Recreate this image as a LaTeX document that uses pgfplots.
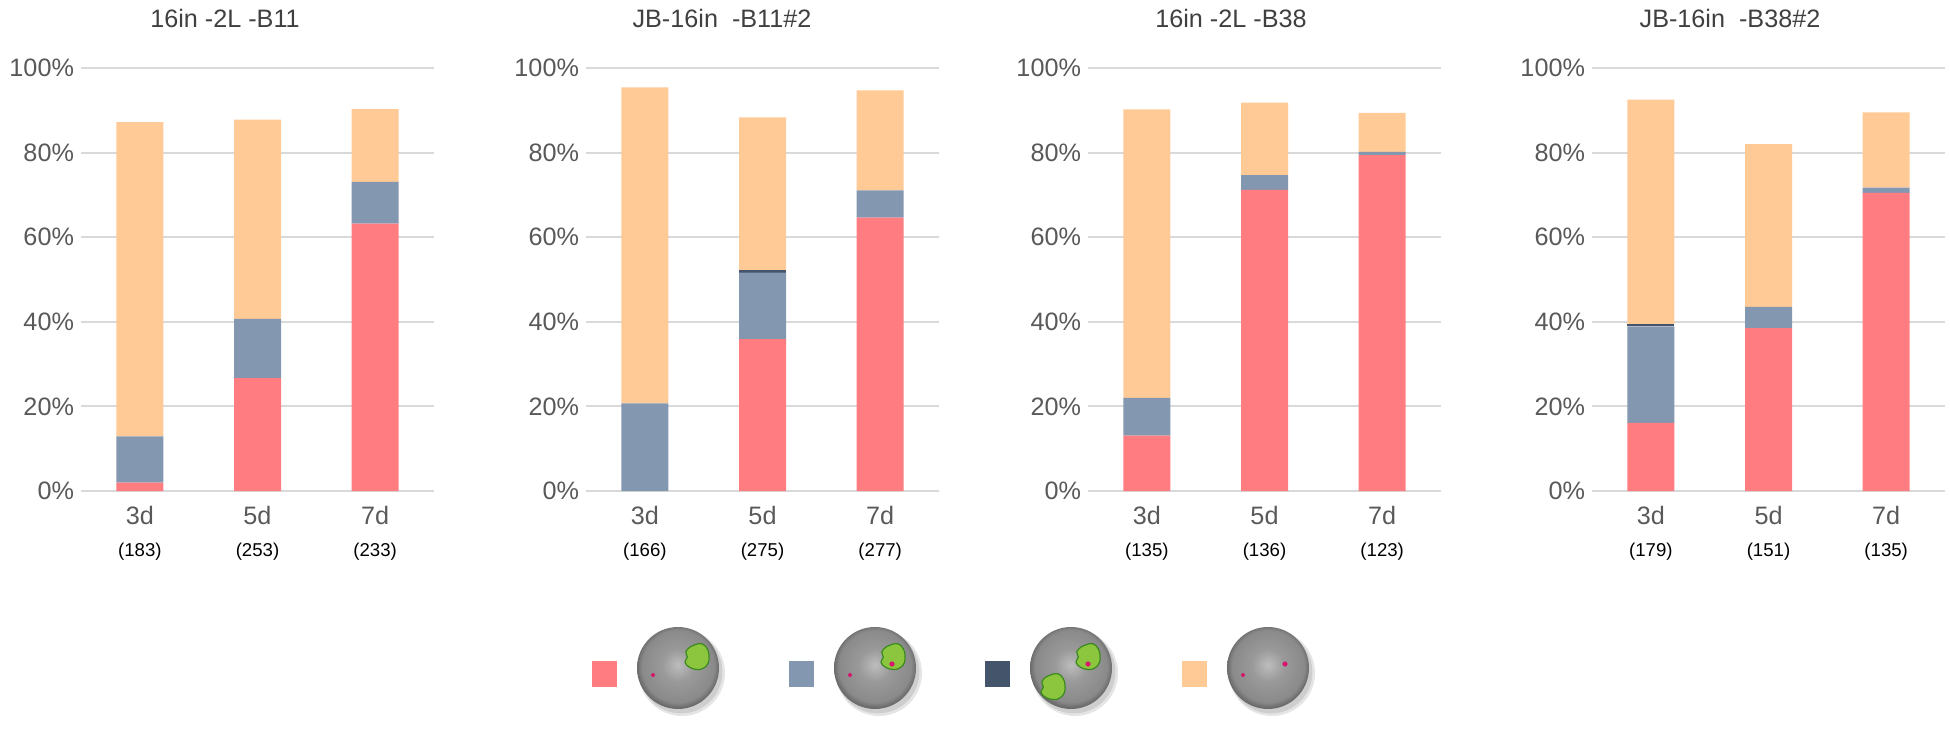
\documentclass[border=0pt]{standalone}
\usepackage{pgfplots}
\pgfplotsset{compat=1.18}
\usepackage{pgfplotstable}
\usepackage{fontspec}
\setmainfont{Liberation Sans}

\definecolor{cred}{HTML}{FF7C80}
\definecolor{cblue}{HTML}{8497B0}
\definecolor{cdark}{HTML}{44546A}
\definecolor{corange}{HTML}{FFCA96}
\definecolor{cgrid}{HTML}{D9D9D9}
\definecolor{ctick}{HTML}{595959}
\definecolor{ctitle}{HTML}{404040}
\definecolor{sph1}{HTML}{BDBDBD}
\definecolor{sph2}{HTML}{8A8A8A}
\definecolor{sph3}{HTML}{6C6C6C}
\definecolor{cgreen}{HTML}{8CC63F}
\definecolor{cgreenD}{HTML}{3A8A1E}
\definecolor{cmag}{HTML}{D6176B}

\pgfdeclareradialshading{sphere}{\pgfpoint{0bp}{2bp}}{color(0bp)=(sph1); color(10bp)=(sph2!70!sph1); color(22bp)=(sph2); color(25bp)=(sph3); color(50bp)=(sph3)}

% columns: x red blue dark orange
\pgfplotstableread{
x r b d o
0 2.0 10.9 0 74.3
1 26.7 14.0 0 47.1
2 63.2 9.9 0 17.2
}\tabA
\pgfplotstableread{
x r b d o
0 0 20.7 0 74.7
1 35.9 15.7 0.6 36.1
2 64.6 6.5 0 23.6
}\tabB
\pgfplotstableread{
x r b d o
0 13.1 8.9 0 68.2
1 71.2 3.5 0 17.1
2 79.4 0.8 0 9.2
}\tabC
\pgfplotstableread{
x r b d o
0 16.1 22.8 0.5 53.1
1 38.5 5.0 0 38.5
2 70.5 1.2 0 17.8
}\tabD

\pgfplotsset{panel/.style={
  scale only axis, width=176.5pt, height=211.5pt, anchor=south west,
  ybar stacked, bar width=23.5pt,
  xmin=-0.5, xmax=2.5, ymin=0, ymax=100, enlargelimits=false,
  axis line style={draw=none}, major tick length=0pt,
  ymajorgrids, ytick={0,20,40,60,80,100},
  yticklabels={0\%,20\%,40\%,60\%,80\%,100\%},
  grid style={draw=cgrid, line width=1pt},
  xtick={0,1,2},
  yticklabel style={font=\fontsize{12.6}{15}\selectfont, text=ctick},
  xticklabel style={align=center, font=\fontsize{12.6}{15.75}\selectfont, text=ctick, yshift=-4.3pt},
}}

\newcommand\cnt[1]{\textcolor{black}{\fontsize{9.3}{11}\selectfont(#1)}}
\newcommand\bars[1]{%
  \addplot[fill=cred, draw=none] table[x=x,y=r] {#1};
  \addplot[fill=cblue, draw=none] table[x=x,y=b] {#1};
  \addplot[fill=cdark, draw=none] table[x=x,y=d] {#1};
  \addplot[fill=corange, draw=none] table[x=x,y=o] {#1};
}
\newcommand\blob[1]{%
  \filldraw[fill=cgreen, draw=cgreenD, line width=0.6pt, shift={#1}]
    plot[smooth cycle, tension=0.8] coordinates {(6,0.5) (5.2,4) (2.5,6.6) (-0.8,6.2) (-3.2,5.2) (-5.6,2.6) (-4.8,0) (-6,-2.6) (-3.6,-5.2) (0,-6.2) (3.2,-5.6) (5.6,-3)};
}
\newcommand\sphere[1]{%
  \fill[black, opacity=0.10] ($(#1)+(2pt,-2.5pt)$) circle (21.5pt);
  \fill[black, opacity=0.10] ($(#1)+(1.5pt,-2pt)$) circle (20.7pt);
  \shade[shading=sphere] (#1) circle (20.5pt);
}
\usetikzlibrary{calc}

\begin{document}
\begin{tikzpicture}[x=1pt,y=1pt]
\useasboundingbox (0,0) rectangle (975,365);

\begin{axis}[panel, at={(40.5pt,119.5pt)},
  xticklabels={{3d\\\cnt{183}},{5d\\\cnt{253}},{7d\\\cnt{233}}}]
\bars{\tabA}
\end{axis}
\begin{axis}[panel, at={(293pt,119.5pt)},
  xticklabels={{3d\\\cnt{166}},{5d\\\cnt{275}},{7d\\\cnt{277}}}]
\bars{\tabB}
\end{axis}
\begin{axis}[panel, at={(544pt,119.5pt)},
  xticklabels={{3d\\\cnt{135}},{5d\\\cnt{136}},{7d\\\cnt{123}}}]
\bars{\tabC}
\end{axis}
\begin{axis}[panel, at={(796pt,119.5pt)},
  xticklabels={{3d\\\cnt{179}},{5d\\\cnt{151}},{7d\\\cnt{135}}}]
\bars{\tabD}
\end{axis}

\begin{scope}[every node/.style={font=\fontsize{12.6}{15}\selectfont, text=ctitle}]
\node at (112.5,356) {16in -2L -B11};
\node at (361,356) {JB-16in\ \ -B11\#2};
\node at (615.5,356) {16in -2L -B38};
\node at (865,356) {JB-16in\ \ -B38\#2};
\end{scope}

% legend
\fill[cred] (296,21.5) rectangle ++(12.5,13);
\fill[cblue] (394.25,21.5) rectangle ++(12.5,13);
\fill[cdark] (492.25,21.5) rectangle ++(12.5,13);
\fill[corange] (590.75,21.5) rectangle ++(12.5,13);

\sphere{339,31}
\blob{(348.5,36.5)}
\fill[cmag] (326.5,27.5) circle (1pt);

\sphere{437.5,31}
\blob{(446.5,36.5)}
\fill[cmag] (446,33) circle (1.3pt);
\fill[cmag] (425,27.5) circle (1pt);

\sphere{535.5,31}
\blob{(544,36.5)}
\fill[cmag] (544,33) circle (1.3pt);
\blob{(526.5,21.5)}

\sphere{634,31}
\fill[cmag] (642.5,33) circle (1.3pt);
\fill[cmag] (621.5,27.5) circle (1pt);
\end{tikzpicture}
\end{document}
